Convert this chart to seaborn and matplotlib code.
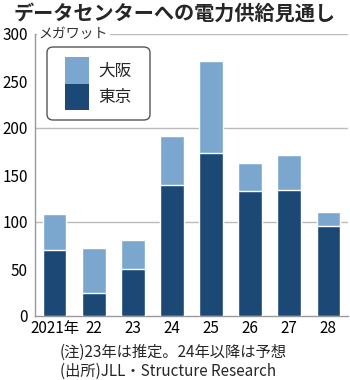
import matplotlib
matplotlib.use("Agg")
import matplotlib.pyplot as plt
import seaborn as sns
import pandas as pd
from matplotlib.patches import Patch, FancyBboxPatch

years = ["2021年", "22", "23", "24", "25", "26", "27", "28"]
tokyo = [70, 25, 50, 139, 173, 133, 134, 96]
osaka = [38, 47, 31, 53, 98, 30, 37, 15]
yticks = [0, 50, 100, 150, 200, 250, 300]
title = "データセンターへの電力供給見通し"
unit = "メガワット"
note1 = "(注)23年は推定。24年以降は予想"
note2 = "(出所)JLL・Structure Research"

sns.set_style("white")
plt.rcParams['font.family'] = ['Noto Sans CJK JP', 'DejaVu Sans']

light = "#7BA7CF"
dark = "#1C4876"

df = pd.DataFrame({"year": years, "tokyo": tokyo, "osaka": osaka})
df["total"] = df["tokyo"] + df["osaka"]

fig = plt.figure(figsize=(3.5, 3.8), dpi=100)
AX_W, AX_H = 313, 282
ax = fig.add_axes([35/350, 64/380, AX_W/350, AX_H/380])

for y in [100, 200, 300]:
    ax.axhline(y, color="#BBBBBB", lw=1, zorder=0)

sns.barplot(data=df, x="year", y="total", color=light, width=0.61,
            saturation=1, ax=ax, zorder=2)
sns.barplot(data=df, x="year", y="tokyo", color=dark, width=0.61,
            saturation=1, ax=ax, zorder=3)

ax.set_ylim(0, 300)
ax.set_xlim(-0.5, 7.5)
ax.set_yticks(yticks)
ax.set_xlabel("")
ax.set_ylabel("")
for s in ["top", "right"]:
    ax.spines[s].set_visible(False)
ax.spines["left"].set_color("#999999")
ax.spines["bottom"].set_color("#999999")
ax.spines["left"].set_linewidth(1)
ax.spines["bottom"].set_linewidth(1)
ax.tick_params(axis="y", length=3, width=1, color="#999999", pad=2,
               labelsize=11, labelcolor="black")
ax.tick_params(axis="x", length=0, pad=3, labelsize=11, labelcolor="black")
ax.set_xticks(range(len(years)))
ax.set_xticklabels(years)

ax.text(0.012, 300, unit, transform=ax.get_yaxis_transform(), fontsize=10,
        va="center", ha="left", color="#333333",
        bbox=dict(facecolor="white", edgecolor="none", pad=1.5), zorder=4)

# legend frame (rounded box)
x0, x1, y0, y1 = 47 - 35, 150 - 35, 47 - 34, 120 - 34
frame = FancyBboxPatch((x0/AX_W, 1 - y1/AX_H), (x1 - x0)/AX_W, (y1 - y0)/AX_H,
                       boxstyle="round,pad=0,rounding_size=0.02",
                       transform=ax.transAxes, facecolor="white",
                       edgecolor="#555555", lw=1, zorder=5)
ax.add_patch(frame)

handles = [Patch(facecolor=light, edgecolor="none", label="大阪"),
           Patch(facecolor=dark, edgecolor="none", label="東京")]
leg = ax.legend(handles=handles, loc="upper left",
                bbox_to_anchor=((65 - 35)/AX_W, 1 - (57 - 34)/AX_H), fontsize=12,
                handlelength=1.45, handleheight=2.07, labelspacing=0,
                handletextpad=0.55, borderpad=0, borderaxespad=0,
                frameon=False)
leg.set_zorder(6)

fig.text(0.5, 1 - 13/380, title, fontsize=14.5, fontweight="bold",
         ha="center", va="center")
fig.text(60/350, 1 - 352/380, note1, fontsize=11, ha="left", va="center")
fig.text(60/350, 1 - 371/380, note2, fontsize=11, ha="left", va="center")

fig.savefig("out.png", dpi=100)
